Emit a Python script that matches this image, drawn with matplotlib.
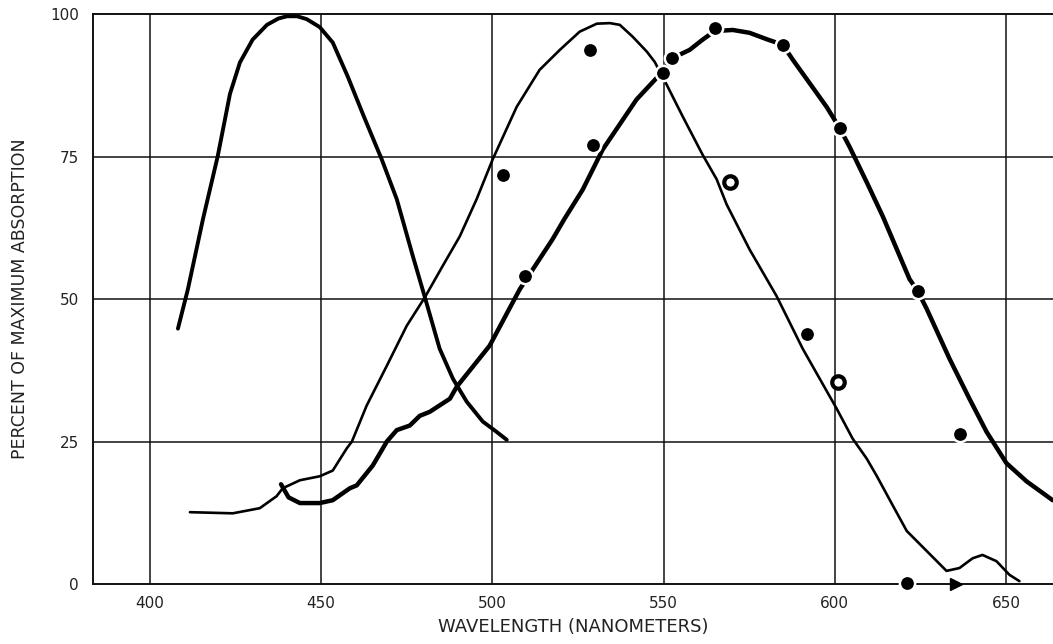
import matplotlib
matplotlib.use("Agg")
import matplotlib.pyplot as plt

plt.rcParams['font.family'] = ['DejaVu Sans']

# Blue-sensitive (short wavelength) curve
blue_x = [408.2, 411.1, 415.5, 419.8, 423.4, 426.3, 430.0, 434.2, 437.5, 440.0,
          443.0, 445.8, 449.6, 453.4, 457.8, 462.5, 467.7, 472.1, 476.8, 480.3,
          484.6, 488.5, 492.5, 497.2, 501.0, 504.2]
blue_y = [44.8, 51.7, 64.0, 75.0, 86.0, 91.5, 95.5, 98.1, 99.2, 99.6,
          99.6, 99.1, 97.7, 95.0, 89.0, 82.0, 74.5, 67.5, 57.5, 50.3,
          41.3, 36.0, 32.0, 28.5, 26.8, 25.3]

# Green-sensitive (middle wavelength) curve
green_x = [411.7, 424.2, 432.1, 437.0, 438.8, 443.8, 449.6, 453.4, 457.5, 459.0,
           463.3, 469.2, 475.0, 480.3, 485.5, 490.5, 495.4, 500.1, 507.1, 513.8,
           519.7, 525.5, 530.5, 534.3, 537.2, 541.0, 545.1, 547.4, 550.9, 555.6,
           561.4, 565.5, 568.4, 575.1, 583.0, 590.6, 600.5, 605.2, 609.3, 612.2,
           616.9, 621.0, 626.8, 632.6, 636.4, 640.2, 643.1, 647.2, 651.0, 653.9]
green_y = [12.6, 12.4, 13.3, 15.4, 16.8, 18.2, 18.9, 19.9, 23.8, 25.0,
           31.3, 38.3, 45.3, 50.3, 55.8, 61.0, 67.5, 74.5, 83.7, 90.2,
           93.7, 96.9, 98.3, 98.4, 98.1, 96.0, 93.4, 91.6, 87.6, 82.0,
           75.3, 71.0, 66.6, 58.7, 50.5, 41.3, 30.8, 25.5, 22.0, 19.0,
           13.8, 9.3, 5.8, 2.3, 2.8, 4.5, 5.1, 4.0, 1.6, 0.5]

# Red-sensitive (long wavelength) curve
red_x = [438.3, 440.5, 443.8, 449.6, 453.4, 458.4, 460.4, 465.1, 469.2, 472.1,
         475.9, 478.8, 481.7, 487.6, 489.6, 499.2, 508.0, 517.6, 521.0, 526.4,
         532.2, 542.1, 549.7, 552.7, 557.6, 561.4, 564.9, 570.2, 575.1, 580.0,
         584.8, 587.7, 592.6, 597.6, 601.4, 604.3, 609.3, 614.0, 621.8, 624.2,
         626.8, 633.5, 639.3, 644.3, 650.1, 656.0, 663.6]
red_y = [17.5, 15.2, 14.2, 14.2, 14.7, 16.8, 17.3, 20.8, 25.0, 27.0,
         27.8, 29.5, 30.2, 32.5, 34.6, 41.8, 51.7, 60.5, 64.0, 69.2,
         76.2, 85.0, 89.9, 92.3, 93.7, 95.5, 97.0, 97.2, 96.7, 95.6,
         94.6, 92.0, 87.9, 83.7, 80.0, 76.7, 70.5, 64.5, 53.5, 51.4,
         48.3, 39.5, 32.5, 26.7, 21.2, 18.0, 14.7]

# Measured points
dots_x = [503.1, 509.5, 528.4, 529.3, 549.7, 552.4, 564.9, 584.8, 591.8, 601.4,
          624.2, 636.4, 621.2]
dots_y = [71.8, 54.0, 93.7, 77.1, 89.7, 92.3, 97.6, 94.6, 43.9, 80.0,
          51.4, 26.4, 0.2]
open_x = [569.3, 600.8]
open_y = [70.5, 35.5]
arrow_x = [635.5]
arrow_y = [0.0]

xticks = [400, 450, 500, 550, 600, 650]
yticks = [0, 25, 50, 75, 100]

fig = plt.figure(figsize=(10.53, 6.44), dpi=100)
ax = fig.add_axes([93/1053, 1 - 584/644, 1 - 93/1053, (584 - 14)/644])
ax.set_xlim(383.4, 663.7)
ax.set_ylim(0, 100)

for x in xticks:
    ax.axvline(x, color='#111111', lw=1.1, zorder=1)
for y in [25, 50, 75]:
    ax.axhline(y, color='#111111', lw=1.1, zorder=1)

ax.plot(blue_x, blue_y, color='black', lw=2.8, solid_capstyle='round',
        solid_joinstyle='round', zorder=3)
ax.plot(green_x, green_y, color='black', lw=1.9, solid_capstyle='round',
        solid_joinstyle='round', zorder=3)
ax.plot(red_x, red_y, color='black', lw=3.2, solid_capstyle='round',
        solid_joinstyle='round', zorder=3)

ax.plot(dots_x, dots_y, ls='none', marker='o', ms=11, mfc='black',
        mec='white', mew=1.8, zorder=5, clip_on=False)
ax.plot(open_x, open_y, ls='none', marker='o', ms=9, mfc='white',
        mec='black', mew=3.0, zorder=5)
ax.plot(arrow_x, arrow_y, ls='none', marker='>', ms=9, mfc='black',
        mec='black', zorder=5, clip_on=False)

ax.set_xticks(xticks)
ax.set_yticks(yticks)
ax.set_xticklabels([str(v) for v in xticks])
ax.set_yticklabels([str(v) for v in yticks])
ax.tick_params(axis='both', length=0, labelsize=11, colors='#222222')
ax.tick_params(axis='x', pad=9)
ax.tick_params(axis='y', pad=10)

for side in ['left', 'top', 'bottom']:
    ax.spines[side].set_color('#111111')
    ax.spines[side].set_linewidth(1.4)
ax.spines['right'].set_visible(False)

ax.set_xlabel('WAVELENGTH (NANOMETERS)', fontsize=13, color='#222222', labelpad=5)
ax.set_ylabel('PERCENT OF MAXIMUM ABSORPTION', fontsize=12.5, color='#222222', labelpad=15)

fig.savefig('out.png', dpi=100)
